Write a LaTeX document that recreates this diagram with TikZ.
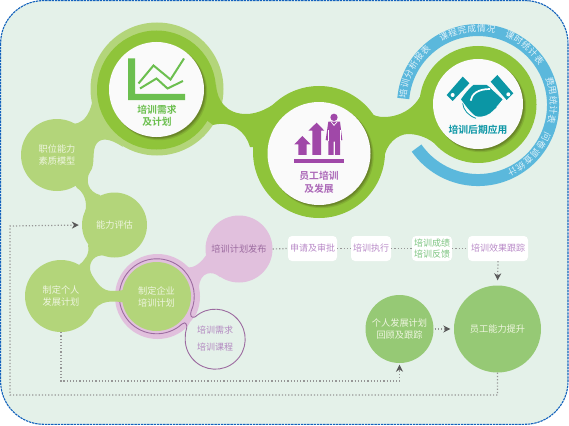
\documentclass[tikz,border=0pt]{standalone}
\usepackage{fontspec}
\newfontfamily\cjk{Noto Sans CJK SC}
\newfontfamily\cjkb{Noto Sans CJK SC Bold}
\usetikzlibrary{arrows.meta}
\definecolor{bgc}{HTML}{E4F1E9}
\definecolor{edgec}{HTML}{1262BC}
\definecolor{midg}{HTML}{8FC43A}
\definecolor{lightg}{HTML}{B3D57A}
\definecolor{deepg}{HTML}{96C975}
\definecolor{pinkc}{HTML}{E1C0DD}
\definecolor{ringp}{HTML}{9C6BA0}
\definecolor{bluec}{HTML}{5BB8DC}
\definecolor{chartg}{HTML}{6CBF4F}
\definecolor{purp}{HTML}{A048A8}
\definecolor{teal2}{HTML}{0B96A5}
\definecolor{paleT}{HTML}{EEF5DF}
\definecolor{lilac}{HTML}{B98AC8}
\definecolor{taggreen}{HTML}{7BC47F}
\definecolor{dotc}{HTML}{969696}
\definecolor{shadowc}{HTML}{5A6A20}
\tikzset{
  disc/.style={circle,inner sep=0pt,align=center,text=paleT,font=\cjk\fontsize{9.2}{12}\selectfont},
  whitedisc/.style={circle,inner sep=0pt,fill=white!98!black},
  capt/.style={align=center,inner sep=0pt,font=\cjkb\fontsize{9.8}{12.5}\selectfont},
  tag/.style={draw=none,fill=white,rounded corners=4pt,minimum height=25pt,inner sep=0pt,align=center,font=\cjk\fontsize{9}{11.8}\selectfont},
  link/.style={dotc,line width=1.2pt,dash pattern=on 1.2pt off 2pt},
  linkarrow/.style={link,-{Stealth[length=7pt,width=7pt,color=black!65]}},
  ringtxt/.style={inner sep=0pt,text=white!82!bluec,font=\cjk\fontsize{8.8}{9}\selectfont},
}
\begin{document}
\begin{tikzpicture}[x=1pt,y=-1pt]
\useasboundingbox (0,0) rectangle (569,425);
\fill[white] (0,0) rectangle (569,425);
\draw[edgec,fill=bgc,line width=1.1pt,dash pattern=on 2.4pt off .8pt,rounded corners=43pt] (.6,.6) rectangle (568,424.3);

% light blobs: necks
\fill[lightg] (63,122) .. controls (70,125) and (86,128) .. (92,103) -- (123,147) .. controls (114,141) and (103,136) .. (97,143) .. controls (91,150) and (96,165) .. (90,172) .. controls (85,180) and (88,192) .. (100,195) -- (114,224) -- (85,212) .. controls (88,203) and (84,192) .. (77,188) -- (57,155) -- cycle;
\fill[lightg] (157,89) circle (66.5);

% main green necks
\fill[midg] (216,85) .. controls (217,100) and (226,114) .. (246,114) .. controls (258,114) and (270,108) .. (282,98) -- (320,150) -- (250,147) .. controls (246,132) and (232,120) .. (213,125) -- (180,100) -- cycle;
\fill[midg] (357,100) .. controls (364,112) and (374,117) .. (384,117) .. controls (400,117) and (418,108) .. (424,87) -- (470,110) -- (434,143) .. controls (425,136) and (415,134) .. (408,134) .. controls (398,134) and (385,144) .. (384,160) -- (330,150) -- cycle;
\fill[midg] (156.5,90) circle (59.5);
\fill[midg] (319,152) circle (66);
\fill[midg] (478,104.5) circle (58.5);

% blue ring
\draw[bluec,line width=12pt] (403.3,98.5) arc[start angle=185,end angle=505,radius=75];

% white circles with soft shadows
\foreach \cx/\cy/\r/\n in {156.5/89.5/47.5/a,319/153.5/51.5/b,478/104/45/c}{
  \fill[shadowc,opacity=.22] (\cx+2.6,\cy+2.6) circle (\r+.6);
  \fill[shadowc,opacity=.35] (\cx+2,\cy+2) circle (\r);
  \fill[shadowc,opacity=.4] (\cx+1.2,\cy+1.2) circle (\r);
}
\node[whitedisc,minimum size=95pt] (need) at (156.5,89.5) {};
\node[whitedisc,minimum size=103pt] (staff) at (319,153.5) {};
\node[whitedisc,minimum size=90pt] (apply) at (478,104) {};

\node[capt,text=chartg] (needt) at (157,116) {培训需求\\及计划};
\node[capt,text=lilac!50!purp] (stafft) at (319,182.5) {员工培训\\及发展};
\node[capt,text=teal2] (applyt) at (478,130) {培训后期应用};

% chart icon
\fill[chartg] (128,58.5) -- (135,58.5) -- (135,94) -- (185,94) -- (185,100) -- (128,100) -- cycle;
\draw[chartg,line width=2pt,line join=miter] (138.5,83.5) -- (153.5,65.5) -- (170.5,79.5) -- (184,58.5);
\draw[chartg,line width=2pt,line join=miter] (140,88.5) -- (156.5,78.5) -- (167.5,88.5) -- (183,81);

% people icon
\begin{scope}[shift={(285,110)},x=.3333pt,y=-.3333pt]
\fill[purp] (28,147) rectangle (178,160);
\fill[purp] (28,103) -- (52,78) -- (77,103) -- (65,103) -- (65,135) -- (40,135) -- (40,103) -- cycle;
\fill[purp] (70,62) -- (95,38) -- (118,62) -- (108,62) -- (108,135) -- (82,135) -- (82,62) -- cycle;
\fill[purp] (147,22) circle (11);
\fill[purp] (130,35) -- (165,35) -- (172,90) -- (165,92) -- (165,135) -- (150,135) -- (150,95) -- (146,95) -- (146,135) -- (130,135) -- (130,92) -- (122,90) -- cycle;
\draw[white,line width=.7pt] (139,36) -- (147,46) -- (156,36);
\draw[white,line width=.6pt] (130,60) -- (130,92) (165,60) -- (165,92);
\end{scope}

% handshake icon
\begin{scope}[shift={(440,65)},x=.3333pt,y=-.3333pt]
\fill[teal2] (20,90) -- (68,35) -- (88,55) -- (38,108) -- cycle;
\fill[white] (38,90) circle (6);
\fill[teal2] (152,50) -- (172,30) -- (220,85) -- (200,105) -- cycle;
\fill[white] (205,88) circle (6);
\fill[teal2] (63,103) .. controls (75,85) and (88,70) .. (100,60) -- (140,60) -- (160,75) -- (190,103) -- (172,125) -- (150,145) .. controls (135,155) and (115,158) .. (105,152) .. controls (90,140) and (75,120) .. (63,103) -- cycle;
\draw[white,line width=1.7pt] (92,107) .. controls (95,88) and (112,72) .. (150,72);
\draw[white,line width=.8pt] (152,68) -- (190,103) -- (170,127);
\draw[white,line width=.8pt] (70,114) .. controls (75,135) and (90,150) .. (108,158);
\draw[teal2,line width=.8pt] (68,115) .. controls (70,135) and (85,152) .. (108,160);
\end{scope}

% ring text
\begin{scope}[shift={(478,104)}]
\foreach \c [count=\i] in {培,训,分,析,报,表}{
  \pgfmathsetmacro\ang{172-(\i-1)*7.6}
  \node[ringtxt,rotate=\ang-90] (ra\i) at (-\ang:75.5) {\c};}
\foreach \c [count=\i] in {课,程,完,成,情,况}{
  \pgfmathsetmacro\ang{117-(\i-1)*7.4}
  \node[ringtxt,rotate=\ang-90] (rb\i) at (-\ang:75.5) {\c};}
\foreach \c [count=\i] in {课,时,统,计,表}{
  \pgfmathsetmacro\ang{65-(\i-1)*7.3}
  \node[ringtxt,rotate=\ang-90] (rc\i) at (-\ang:75.5) {\c};}
\foreach \c [count=\i] in {费,用,统,计,表}{
  \pgfmathsetmacro\ang{17.5-(\i-1)*7.4}
  \node[ringtxt,rotate=\ang-90] (rd\i) at (-\ang:75.5) {\c};}
\foreach \c [count=\i] in {问,卷,调,查,统,计}{
  \pgfmathsetmacro\ang{-25.6-(\i-1)*7.5}
  \node[ringtxt,rotate=\ang-90] (re\i) at (-\ang:75.5) {\c};}
\end{scope}

% pink group
\fill[pinkc] (187,267) .. controls (193,269) and (202,263) .. (208,252) -- (239,249) -- (220,277) .. controls (212,270) and (200,272) .. (199,287) -- (157,296) -- cycle;
\fill[pinkc] (157.5,296.5) circle (42.5);
\node[circle,fill=bgc,minimum size=60pt,inner sep=0pt,align=center,text=lilac!90!gray,font=\cjk\fontsize{9}{17}\selectfont] (course) at (215,339) {培训需求\\培训课程};
\draw[ringp,line width=.9pt] (195,317) arc[start angle=227.7,end angle=544.4,radius=30] .. controls (185,331) and (187.5,328) .. (186.7,325.5) .. controls (186,322.5) and (183.5,322) .. (182,324) arc[start angle=47.7,end angle=384,radius=37.5] .. controls (190,315) and (191,318.5) .. (195,317);

% green neck F-E-G
\fill[lightg] (118,257) .. controls (110,257) and (103,254) .. (98,256) .. controls (90,259) and (88,268) .. (92,275) .. controls (97,283) and (102,291) .. (112,291) .. controls (120,291) and (124,290) .. (130,288) -- (130,303) .. controls (122,303) and (104,297) .. (95,309) -- (61,296) -- (79,265) .. controls (85,260) and (90,254) .. (88,245) -- (114,224) -- cycle;

\node[disc,fill=lightg,minimum size=72pt] (model) at (57,155) {职位能力\\素质模型};
\node[disc,fill=lightg,minimum size=65pt] (assess) at (114.5,225) {能力评估};
\node[disc,fill=lightg,minimum size=72pt] (personal) at (61,296) {制定个人\\发展计划};
\node[disc,fill=lightg,minimum size=69pt] (corp) at (156.5,296.5) {制定企业\\培训计划};
\node[disc,fill=pinkc,minimum size=67pt,text=ringp] (publish) at (239,249) {培训计划发布};
\node[disc,fill=deepg,minimum size=68pt] (review) at (399.5,329) {个人发展计划\\回顾及跟踪};
\node[disc,fill=deepg,minimum size=87pt] (lift) at (497.5,329) {员工能力提升};

\node[tag,text=lilac,minimum width=49pt] (approve) at (312.5,248.5) {申请及审批};
\node[tag,text=lilac,minimum width=40pt] (exec) at (371,248.5) {培训执行};
\node[tag,text=taggreen,minimum width=40pt] (score) at (432,248.5) {培训成绩\\培训反馈};
\node[tag,text=lilac,minimum width=60pt] (track) at (498,248.5) {培训效果跟踪};

% dotted connectors
\draw[link] (publish.east) -- (approve.west);
\draw[link] (approve.east) -- (exec.west);
\draw[link] (exec.east) -- (score.west);
\draw[link] (score.east) -- (track.west);
\draw[linkarrow,shorten >=5pt] (track.south) -- (lift.north);
\draw[linkarrow,shorten >=3.5pt,shorten <=1pt] (review.east) -- (lift.west);
\coordinate (lowA) at (61,381);
\coordinate (lowB) at (10,395);
\coordinate (lowC) at (10,226);
\draw[linkarrow,shorten >=1.5pt] (personal.south) |- (lowA) -| (review.south);
\draw[linkarrow,shorten >=3pt] (lift.south) |- (lowB) -- (lowC) -- (assess.west);
\end{tikzpicture}
\end{document}
